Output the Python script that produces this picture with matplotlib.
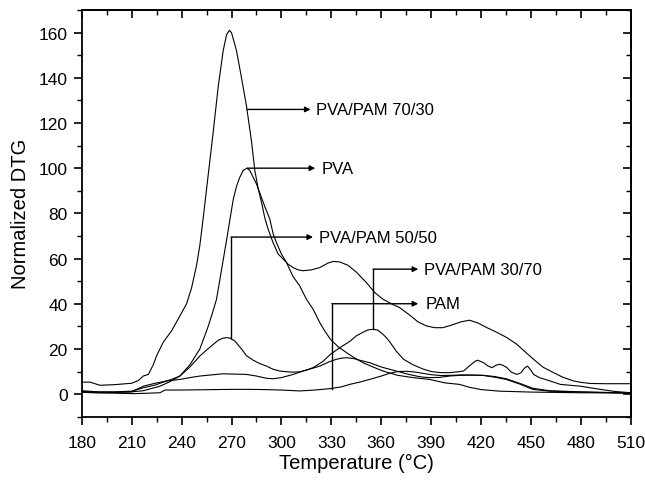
import matplotlib
matplotlib.use("Agg")
import matplotlib.pyplot as plt
from matplotlib.ticker import MultipleLocator

plt.rcParams['font.family'] = ['Liberation Sans', 'DejaVu Sans']

# --- DTG curves (temperature in °C, normalized DTG) ---

t_7030 = [180, 185, 191, 200, 210, 214, 217, 220, 223, 225, 229, 234, 239, 243, 246,
          249, 251, 253, 256, 259, 262, 265, 267, 268.7, 270, 273, 276, 279, 282, 284,
          286, 288, 290, 292, 295, 298, 301, 304, 307, 310, 313, 318, 323, 328, 331,
          335, 340, 345, 351, 356, 361, 366, 371, 377, 382, 387, 392, 397, 402, 408,
          413, 418, 423.5, 429, 435.5, 441.5, 446, 451.5, 457, 463.5, 469, 475.6, 480,
          485.6, 495, 510]
v_7030 = [5.3, 5.3, 3.9, 4.2, 4.8, 6, 8, 8.7, 13, 17, 23, 28, 34.6, 40, 47,
          57, 66, 78, 97, 116, 136, 152, 159, 161, 160, 152, 140, 127.5, 112, 99,
          91, 85, 78, 73, 67, 62, 59.8, 57.5, 56, 55, 54.6, 55, 56, 58, 58.7,
          58.5, 57, 54, 49.4, 45, 42, 40, 38.3, 35, 32, 30.2, 29.4, 29.4, 30.5, 32,
          32.7, 31.5, 29.4, 27.5, 25, 22, 19, 15.4, 12, 9.5, 7.5, 5.8, 5.2,
          4.7, 4.6, 4.6]

t_pva = [180, 190, 200, 210, 217, 222, 227, 233, 239, 245, 251, 256, 259, 261, 264,
         267, 269, 271, 273, 275, 277, 279.2, 281, 283, 285, 287, 290, 293, 295, 297,
         300, 303, 307, 311, 315, 319, 323, 326, 329.4, 334, 339, 344, 349, 355, 361,
         370, 379, 389, 398, 407, 413, 420, 431, 450, 480, 510]
v_pva = [1.0, 0.8, 0.8, 1.0, 1.5, 2.5, 3.5, 5.5, 8, 13, 20, 30, 37, 42, 55,
         68, 77, 86, 92, 96, 99, 100, 99, 96, 93, 89, 83, 77.5, 71, 67,
         62, 58.3, 52, 47.9, 42, 37.6, 31.7, 28, 24.3, 21, 18.4, 16, 13.9, 12, 10.2,
         8.3, 7.3, 6.5, 5, 4.3, 3, 2, 1.3, 0.9, 0.6, 0.5]

t_5050 = [180, 190, 200, 210, 217, 224, 231, 235, 239, 245, 251, 255, 259, 262, 265,
          267, 269, 272, 276, 279, 283, 287, 291, 295, 299, 303, 307, 311, 315, 319,
          323, 329, 333, 336, 339, 343, 347, 353, 360, 365, 369, 375, 381, 385, 389,
          395, 401, 407, 414, 421, 428, 435, 443, 451, 461, 480, 510]
v_5050 = [1.5, 1.0, 1.0, 1.3, 2.8, 4, 5.8, 6.8, 8, 12, 16.9, 19.5, 22, 23.8, 24.8,
          25, 24.8, 23.5, 20, 17, 15, 13.5, 12.4, 11, 10.2, 9.9, 9.7, 9.9, 10.6, 11.5,
          12.4, 14.4, 15.4, 15.9, 16.1, 15.8, 15, 13.9, 12, 11, 10.2, 9, 8, 7.5, 7.3,
          7.4, 8, 8.3, 8.4, 8.3, 7.5, 6.5, 4.5, 2.1, 1.3, 0.9, 0.4]

t_3070 = [180, 190, 200, 210, 217, 224, 231, 239, 245, 251, 258, 265, 269, 275, 279,
          285, 291, 295, 300, 307, 313, 319, 325, 329.4, 335, 341.4, 345, 349.3, 352,
          355.3, 358, 361, 363, 365.4, 369, 373.4, 379, 385.4, 390, 395.4, 401, 405,
          409.4, 413, 416.5, 418, 421.4, 424, 426.5, 429, 431, 433, 435.5, 438, 441.5,
          444, 446, 447.9, 450, 451.5, 455, 461.5, 467.6, 479.6, 491.6, 500, 510]
v_3070 = [1.2, 0.8, 0.8, 1.0, 3.5, 4.8, 5.8, 6.5, 7.3, 8, 8.5, 9, 8.9, 8.8, 8.7,
          8, 7, 6.8, 7.3, 8.7, 10.2, 11.7, 14.5, 17.6, 20.5, 23.5, 25.8, 27.5, 28.4,
          28.7, 28.3, 26.5, 25, 22.8, 19, 15.4, 13, 11, 10, 9.5, 9.5, 9.8,
          10.2, 12.5, 14.6, 15, 13.9, 12.5, 11.7, 12.8, 13.2, 12.8, 11.7, 9.8, 8.7,
          9.5, 11.5, 12.4, 10.5, 8.7, 7.3, 5.8, 4.3, 3.5, 2.1, 1.2, 0.6]

t_pam = [180, 190, 200, 211, 220, 227, 230, 240, 250, 260, 271, 280, 290, 300, 311,
         320, 326, 330, 336, 341, 347, 353, 360, 365, 370, 375, 380, 385, 390, 396,
         401, 410, 421, 428, 435, 443, 451, 461, 480, 510]
v_pam = [0.8, 0.5, 0.4, 0.2, 0.4, 0.6, 1.8, 1.8, 1.9, 2, 2.1, 2.1, 2, 1.8, 1.4,
         1.8, 2.2, 2.5, 3.2, 4.3, 5.3, 6.5, 8, 9.2, 10, 10.1, 9.8, 9.2, 8.6, 8.2,
         8.3, 8.5, 8.3, 7.8, 6.8, 4.8, 2.6, 1.5, 1, 0.5]

series = [(t_7030, v_7030), (t_pva, v_pva), (t_5050, v_5050),
          (t_3070, v_3070), (t_pam, v_pam)]

# callouts: label, height, leader x, leader start height, arrow tip x, text x
labels = ["PVA/PAM 70/30", "PVA", "PVA/PAM 50/50", "PVA/PAM 30/70", "PAM"]
label_y = [126, 100, 69.5, 55.3, 40]
leader_x = [279.4, 279.5, 269.8, 355.1, 330.3]
leader_from = [126, 100, 25, 28.7, 2.3]
arrow_end = [317.5, 320.3, 319.0, 382.2, 382.2]
text_x = [321, 324.3, 322.5, 385.5, 386.5]

fig = plt.figure(figsize=(6.45, 4.81), dpi=100)
ax = fig.add_axes([0.1267, 0.1316, 0.8515, 0.8455])

for t, v in series:
    ax.plot(t, v, color="black", lw=0.8)

for lab, y, lx, y0, xe, tx in zip(labels, label_y, leader_x, leader_from, arrow_end, text_x):
    if y0 != y:
        ax.plot([lx, lx], [y0, y], color="black", lw=1.0)
    ax.annotate("", xy=(xe, y), xytext=(lx, y),
                arrowprops=dict(arrowstyle="-|>", color="black", lw=1.0,
                                mutation_scale=8, shrinkA=0, shrinkB=0))
    ax.text(tx, y, lab, fontsize=12, va="center", ha="left")

ax.set_xlim(180, 510)
ax.set_ylim(-10, 170)
ax.xaxis.set_major_locator(MultipleLocator(30))
ax.xaxis.set_minor_locator(MultipleLocator(15))
ax.yaxis.set_major_locator(MultipleLocator(20))
ax.yaxis.set_minor_locator(MultipleLocator(10))
ax.tick_params(which="major", direction="out", length=6, width=1.2, labelsize=12.5, pad=4)
ax.tick_params(which="minor", direction="out", length=3.5, width=1.0)
ax.tick_params(axis="x", which="major", pad=7)

# mirrored ticks pointing inward on top and right
top = ax.secondary_xaxis("top")
top.xaxis.set_major_locator(MultipleLocator(30))
top.xaxis.set_minor_locator(MultipleLocator(15))
top.tick_params(which="major", direction="in", length=6, width=1.2, labeltop=False)
top.tick_params(which="minor", direction="in", length=3.5, width=1.0)
right = ax.secondary_yaxis("right")
right.yaxis.set_major_locator(MultipleLocator(20))
right.yaxis.set_minor_locator(MultipleLocator(10))
right.tick_params(which="major", direction="in", length=6, width=1.2, labelright=False)
right.tick_params(which="minor", direction="in", length=3.5, width=1.0)

for s in ax.spines.values():
    s.set_linewidth(1.3)
top.spines["top"].set_linewidth(1.3)
right.spines["right"].set_linewidth(1.3)

ax.set_xlabel("Temperature (\u00b0C)", fontsize=14.5, labelpad=2)
ax.set_ylabel("Normalized DTG", fontsize=14.5, labelpad=6)

fig.savefig("out.png", dpi=100)
